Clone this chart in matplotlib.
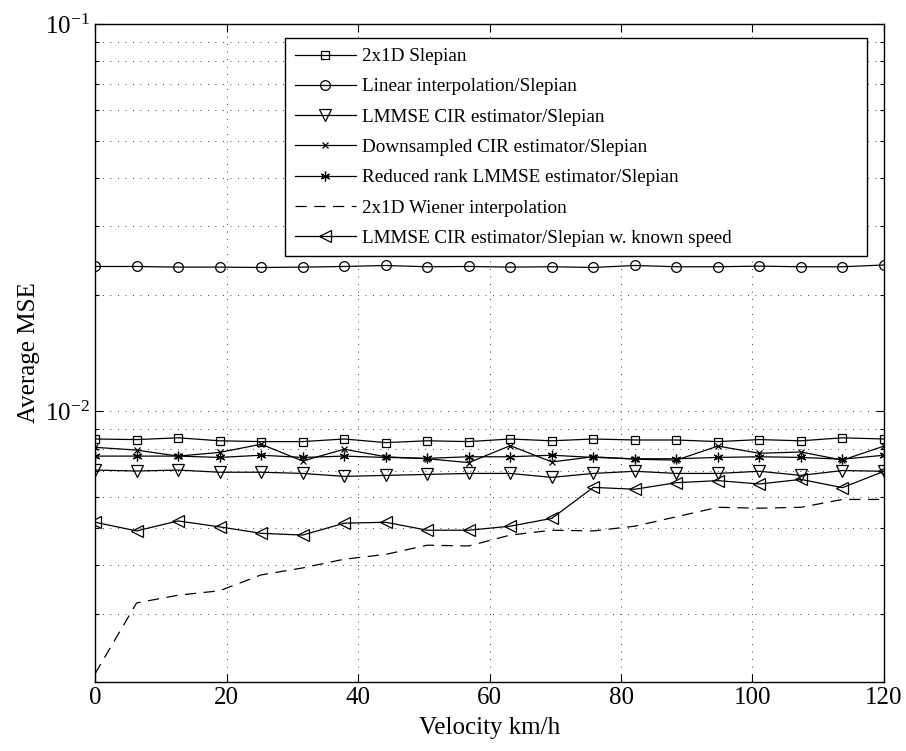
import numpy as np
import matplotlib
matplotlib.use('Agg')
import matplotlib.pyplot as plt
from matplotlib.ticker import LogLocator, NullFormatter, FixedLocator

plt.rcParams['font.family'] = ['Liberation Serif', 'DejaVu Serif']
plt.rcParams['mathtext.fontset'] = 'custom'
plt.rcParams['mathtext.rm'] = 'Liberation Serif'
plt.rcParams['mathtext.it'] = 'Liberation Serif:italic'

# velocity grid, 20 points from 0 to 120 km/h
velocity = np.linspace(0, 120, 20)

# values (units of 1e-3)
slepian_2x1d = [8.48, 8.45, 8.54, 8.39, 8.35, 8.35, 8.48, 8.30, 8.39, 8.35,
                8.48, 8.39, 8.48, 8.43, 8.43, 8.35, 8.45, 8.39, 8.54, 8.48]
linear_interp = [23.65, 23.65, 23.56, 23.56, 23.51, 23.56, 23.65, 23.79, 23.61, 23.65,
                 23.56, 23.61, 23.51, 23.79, 23.61, 23.61, 23.70, 23.61, 23.61, 23.86]
lmmse_cir = [7.05, 7.01, 7.05, 6.96, 6.96, 6.91, 6.79, 6.83, 6.87, 6.91,
             6.91, 6.75, 6.91, 7.00, 6.91, 6.91, 7.00, 6.83, 7.03, 7.00]
downsampled_cir = [8.07, 7.94, 7.66, 7.83, 8.22, 7.44, 7.98, 7.63, 7.54, 7.37,
                   8.15, 7.40, 7.63, 7.52, 7.48, 8.13, 7.79, 7.85, 7.48, 8.13]
reduced_rank = [7.66, 7.66, 7.66, 7.60, 7.70, 7.60, 7.66, 7.60, 7.56, 7.63,
                7.63, 7.70, 7.60, 7.54, 7.54, 7.60, 7.63, 7.60, 7.52, 7.70]
wiener_2x1d = [2.10, 3.20, 3.35, 3.44, 3.78, 3.94, 4.15, 4.27, 4.51, 4.49,
               4.79, 4.93, 4.91, 5.05, 5.34, 5.65, 5.62, 5.65, 5.92, 5.92]
known_speed = [5.17, 4.91, 5.21, 5.03, 4.84, 4.79, 5.14, 5.17, 4.93, 4.93,
               5.05, 5.29, 6.36, 6.29, 6.54, 6.62, 6.49, 6.67, 6.35, 7.00]

labels = ['2x1D Slepian', 'Linear interpolation/Slepian', 'LMMSE CIR estimator/Slepian',
          'Downsampled CIR estimator/Slepian', 'Reduced rank LMMSE estimator/Slepian',
          '2x1D Wiener interpolation', 'LMMSE CIR estimator/Slepian w. known speed']

fig = plt.figure(figsize=(9.06, 7.51), dpi=100)
ax = fig.add_axes([0.1049, 0.0919, 0.8708, 0.8762])

lw = 0.9
mk = dict(color='k', lw=lw, markerfacecolor='none', markeredgecolor='k', markeredgewidth=0.9)
ax.plot(velocity, np.array(slepian_2x1d) * 1e-3, marker='s', ms=6, label=labels[0], **mk)
ax.plot(velocity, np.array(linear_interp) * 1e-3, marker='o', ms=7, label=labels[1], **mk)
ax.plot(velocity, np.array(lmmse_cir) * 1e-3, marker='v', ms=8, label=labels[2], **mk)
ax.plot(velocity, np.array(downsampled_cir) * 1e-3, marker='x', ms=5, label=labels[3], **mk)
ax.plot(velocity, np.array(reduced_rank) * 1e-3, marker=(6, 2, 0), ms=7, label=labels[4], **mk)
ax.plot(velocity, np.array(wiener_2x1d) * 1e-3, color='k', lw=lw, dashes=(9, 6), label=labels[5])
ax.plot(velocity, np.array(known_speed) * 1e-3, marker='<', ms=8, label=labels[6], **mk)

ax.set_yscale('log')
ax.set_xlim(0, 120)
ax.set_ylim(2e-3, 1e-1)
ax.xaxis.set_major_locator(FixedLocator([0, 20, 40, 60, 80, 100, 120]))
ax.yaxis.set_major_locator(LogLocator(base=10, numticks=10))
ax.yaxis.set_minor_locator(LogLocator(base=10, subs=np.arange(2, 10), numticks=20))
ax.yaxis.set_minor_formatter(NullFormatter())

ax.tick_params(which='both', direction='in', top=True, right=True, labelsize=18, width=0.8)
ax.tick_params(which='major', length=6)
ax.tick_params(which='minor', length=3)
ax.grid(True, which='major', axis='both', color='k', linestyle=(0, (1, 8)), lw=0.6)
ax.grid(True, which='minor', axis='y', color='k', linestyle=(0, (1, 8)), lw=0.6)
for s in ax.spines.values():
    s.set_linewidth(1.0)

ax.set_xlabel('Velocity km/h', fontsize=18, labelpad=6)
ax.set_ylabel('Average MSE', fontsize=18, labelpad=4)

# matlab-style legend box, wider than its text
leg = ax.legend(loc='upper left', bbox_to_anchor=(0.2408, 0.6524, 0.7376, 0.3259),
                mode='expand', borderaxespad=0,
                fontsize=13.8, handlelength=3.2, handletextpad=0.3, labelspacing=0.67,
                fancybox=False, framealpha=1, edgecolor='k', borderpad=0.5)
leg.get_frame().set_linewidth(1.0)

fig.savefig('out.png', dpi=100)
